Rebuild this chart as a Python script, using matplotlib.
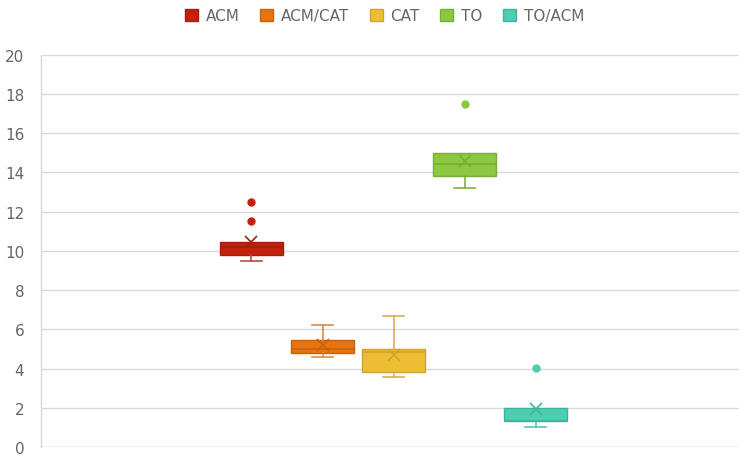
import matplotlib
matplotlib.use("Agg")
import matplotlib.pyplot as plt
from matplotlib.patches import Patch

# Summary statistics for each group
groups = ["ACM", "ACM/CAT", "CAT", "TO", "TO/ACM"]
q1 = [9.8, 4.78, 3.83, 13.81, 1.31]
median = [10.19, 4.98, 4.83, 14.45, 1.31]
q3 = [10.44, 5.47, 4.98, 15.0, 1.99]
whisker_low = [9.47, 4.58, 3.59, 13.21, 1.02]
whisker_high = [10.44, 6.24, 6.67, 15.0, 1.99]
means = [10.47, 5.22, 4.71, 14.58, 1.94]
outliers = [[11.53, 12.5], [], [], [17.5], [4.03]]

y_ticks = [0, 2, 4, 6, 8, 10, 12, 14, 16, 18, 20]

fill_colors = ["#C3210E", "#E9730F", "#EDBD34", "#8DC940", "#4ECDB1"]
edge_colors = ["#A81C0C", "#C9620D", "#CFA42A", "#78AE35", "#3FB398"]
whisker_colors = ["#B84A3A", "#DE8A48", "#D8B050", "#7FB048", "#5EC3AA"]

text_color = "#666666"
grid_color = "#D9D9D9"

fig = plt.figure(figsize=(7.39, 4.56), dpi=100)
ax = fig.add_axes([41 / 739, 8 / 456, 1 - 41 / 739, (448 - 55.7) / 456])

positions = list(range(1, len(groups) + 1))
for i, name in enumerate(groups):
    stats = [{
        "label": name,
        "q1": q1[i], "med": median[i], "q3": q3[i],
        "whislo": whisker_low[i], "whishi": whisker_high[i],
        "mean": means[i], "fliers": outliers[i],
    }]
    parts = ax.bxp(
        stats, positions=[positions[i]], widths=0.89, patch_artist=True,
        showmeans=True, showfliers=True,
        boxprops=dict(facecolor=fill_colors[i], edgecolor=edge_colors[i], linewidth=1.0),
        medianprops=dict(color=edge_colors[i], linewidth=1.2),
        whiskerprops=dict(color=whisker_colors[i], linewidth=1.2),
        capprops=dict(color=whisker_colors[i], linewidth=1.2),
        capwidths=0.3,
        meanprops=dict(marker="x", markersize=8, markeredgewidth=1.2,
                       markeredgecolor=edge_colors[i], linestyle="none"),
        flierprops=dict(marker="o", markersize=5, markerfacecolor=fill_colors[i],
                        markeredgecolor=fill_colors[i], linestyle="none"),
        zorder=3,
    )
    # No whisker or cap when it would coincide with the box edge
    if whisker_low[i] >= q1[i]:
        parts["caps"][0].set_visible(False)
        parts["whiskers"][0].set_visible(False)
    if whisker_high[i] <= q3[i]:
        parts["caps"][1].set_visible(False)
        parts["whiskers"][1].set_visible(False)

ax.set_xlim(1 - 210.5 / 71, 5 + 203.5 / 71)
ax.set_ylim(0, 20)
ax.set_yticks(y_ticks)
ax.set_yticklabels([str(t) for t in y_ticks])
ax.set_xticks([])

ax.yaxis.grid(True, color=grid_color, linewidth=1.0, zorder=0)
ax.set_axisbelow(True)
for side in ["top", "right", "bottom"]:
    ax.spines[side].set_visible(False)
ax.spines["left"].set_color(grid_color)
ax.spines["left"].set_linewidth(1.0)
ax.tick_params(axis="y", length=0, pad=12, labelsize=11, labelcolor=text_color)
for lbl in ax.get_yticklabels():
    lbl.set_family("DejaVu Sans")

# Bottom baseline at zero
ax.axhline(0, color=grid_color, linewidth=1.0, zorder=1)

handles = [Patch(facecolor=fill_colors[i], edgecolor=edge_colors[i], label=g)
           for i, g in enumerate(groups)]
fig.legend(handles=handles, loc="center", bbox_to_anchor=(384.5 / 739, 1 - 16.5 / 456),
           ncol=5, frameon=False, handlelength=0.85, handleheight=0.85,
           handletextpad=0.5, columnspacing=1.35,
           prop=dict(family="DejaVu Sans", size=11), labelcolor=text_color)

fig.savefig("out.png", dpi=100)
